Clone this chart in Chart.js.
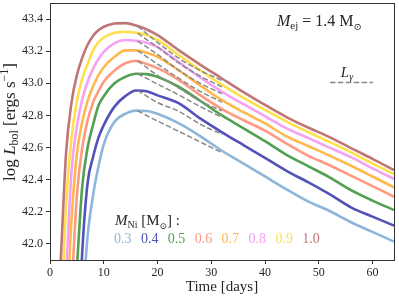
<!DOCTYPE html>
<html>
<head>
<meta charset="utf-8">
<script src="https://cdn.jsdelivr.net/npm/chart.js@4.4.1/dist/chart.umd.min.js"></script>
<style>
  html, body { margin: 0; padding: 0; background: #fff; }
  #wrap { width: 399px; height: 299px; position: relative; }
</style>
</head>
<body>
<div id="wrap"><canvas id="lbolChart"></canvas></div>
<script>
// --- Data (time in days, log L_bol) ---
const days = [2, 3, 4, 5, 6, 7, 8, 9, 10, 12, 14, 16, 18, 20, 24, 28, 32, 36, 40, 44, 48, 52, 56, 60, 64];

const lbol03 = [null, null, null, null, 41.6, 42.05, 42.3, 42.48, 42.62, 42.76, 42.81, 42.83, 42.828, 42.81, 42.75, 42.67, 42.58, 42.50, 42.42, 42.34, 42.265, 42.205, 42.135, 42.075, 42.014];
const lbol04 = [null, null, null, 41.2, 41.95, 42.38, 42.54, 42.66, 42.74, 42.855, 42.92, 42.955, 42.95, 42.925, 42.875, 42.78, 42.695, 42.615, 42.536, 42.455, 42.385, 42.31, 42.228, 42.17, 42.114];
const lbol05 = [null, null, null, 41.85, 42.36, 42.6, 42.74, 42.86, 42.92, 43.0, 43.04, 43.06, 43.057, 43.04, 42.977, 42.89, 42.80, 42.72, 42.64, 42.555, 42.485, 42.415, 42.335, 42.27, 42.211];
const lbol06 = [null, null, 41.7, 42.3, 42.6, 42.77, 42.88, 42.95, 43.01, 43.08, 43.125, 43.14, 43.12, 43.095, 43.02, 42.925, 42.84, 42.77, 42.705, 42.625, 42.55, 42.49, 42.425, 42.36, 42.294];
const lbol07 = [null, 41.5, 42.15, 42.56, 42.76, 42.89, 42.98, 43.05, 43.10, 43.165, 43.205, 43.205, 43.19, 43.165, 43.08, 42.985, 42.895, 42.82, 42.75, 42.67, 42.61, 42.55, 42.487, 42.42, 42.352];
const lbol08 = [null, 41.8, 42.45, 42.73, 42.90, 43.01, 43.09, 43.15, 43.195, 43.25, 43.27, 43.265, 43.253, 43.225, 43.13, 43.035, 42.947, 42.87, 42.795, 42.72, 42.66, 42.60, 42.54, 42.47, 42.404];
const lbol09 = [41.45, 42.25, 42.66, 42.89, 43.03, 43.12, 43.205, 43.255, 43.285, 43.315, 43.32, 43.315, 43.30, 43.27, 43.175, 43.08, 42.99, 42.91, 42.835, 42.762, 42.697, 42.635, 42.57, 42.50, 42.435];
const lbol10 = [41.90, 42.57, 42.88, 43.05, 43.16, 43.24, 43.295, 43.33, 43.352, 43.372, 43.375, 43.36, 43.335, 43.30, 43.205, 43.115, 43.03, 42.945, 42.865, 42.79, 42.725, 42.665, 42.597, 42.53, 42.46];

// gamma-ray deposition (dashed), same order
const gammaDays = [16.3, 20, 24, 28, 32];
const lgam03 = [42.828, 42.765, 42.70, 42.634, 42.568];
const lgam04 = [42.955, 42.88, 42.825, 42.744, 42.683];
const lgam05 = [43.06, 42.995, 42.927, 42.854, 42.788];
const lgam06 = [43.14, 43.05, 42.97, 42.889, 42.828];
const lgam07 = [43.204, 43.12, 43.03, 42.949, 42.883];
const lgam08 = [43.263, 43.18, 43.08, 42.999, 42.935];
const lgam09 = [43.312, 43.225, 43.125, 43.044, 42.978];
const lgam10 = [43.355, 43.255, 43.155, 43.079, 43.018];

const niMasses = ['0.3', '0.4', '0.5', '0.6', '0.7', '0.8', '0.9', '1.0'];
const niColors = ['#8cb6da', '#5252b8', '#52a052', '#ff9a80', '#ffb84e', '#f4a2f2', '#ffe04c', '#c07676'];

const xTicks = [0, 10, 20, 30, 40, 50, 60];
const yTicks = [42.0, 42.2, 42.4, 42.6, 42.8, 43.0, 43.2, 43.4];

const serif = '"Liberation Serif", "DejaVu Serif", serif';
const ink = '#262626';

// --- helpers ---
function toPoints(xs, ys) {
    return xs.map((x, i) => ({ x: x, y: ys[i] })).filter(p => p.y !== null);
}

// draw a run of text pieces (for sub/superscripts)
function drawPieces(ctx, pieces, x, y, align) {
    let total = 0;
    pieces.forEach(p => { ctx.font = p.font; total += ctx.measureText(p.t).width; });
    let cx = align === 'center' ? x - total / 2 : x;
    pieces.forEach(p => {
        ctx.font = p.font;
        ctx.fillStyle = p.color || ink;
        ctx.fillText(p.t, cx, y + (p.dy || 0));
        cx += ctx.measureText(p.t).width;
    });
}

const rm = s => `${s}px ${serif}`;
const it = s => `italic ${s}px ${serif}`;

const figureText = {
    id: 'figureText',
    afterDatasetsDraw(chart) {
        const ctx = chart.ctx;
        const a = chart.chartArea;
        ctx.save();

        // frame round the axes
        ctx.strokeStyle = '#333';
        ctx.lineWidth = 1;
        ctx.strokeRect(a.left + 0.5, a.top + 0.5, a.right - a.left, a.bottom - a.top);

        ctx.textBaseline = 'alphabetic';
        ctx.textAlign = 'left';

        // axis titles
        drawPieces(ctx, [{ t: 'Time [days]', font: rm(15) }], (a.left + a.right) / 2, 291, 'center');

        ctx.save();
        ctx.translate(15, 122);
        ctx.rotate(-Math.PI / 2);
        drawPieces(ctx, [
            { t: 'log ', font: rm(17) },
            { t: 'L', font: it(17) },
            { t: 'bol', font: rm(12), dy: 3 },
            { t: ' [ergs s', font: rm(17) },
            { t: '\u22121', font: rm(12), dy: -7 },
            { t: ']', font: rm(17) }
        ], 0, 0, 'center');
        ctx.restore();

        // ejecta mass note
        drawPieces(ctx, [
            { t: 'M', font: it(16) },
            { t: 'ej', font: rm(11), dy: 3 },
            { t: ' = 1.4 M', font: rm(16) },
            { t: '\u2299', font: rm(10), dy: 4 }
        ], 277, 26, 'left');

        // gamma legend entry
        drawPieces(ctx, [
            { t: 'L', font: it(15) },
            { t: '\u03b3', font: it(10), dy: 3 }
        ], 347, 77, 'center');
        ctx.strokeStyle = '#888';
        ctx.lineWidth = 1.5;
        ctx.setLineDash([5.5, 2.4]);
        ctx.beginPath();
        ctx.moveTo(330, 82.5);
        ctx.lineTo(373, 82.5);
        ctx.stroke();
        ctx.setLineDash([]);

        // nickel mass key
        drawPieces(ctx, [
            { t: 'M', font: it(15) },
            { t: 'Ni', font: rm(10), dy: 3 },
            { t: ' [M', font: rm(15) },
            { t: '\u2299', font: rm(9), dy: 4 },
            { t: '] :', font: rm(15) }
        ], 115, 225, 'left');
        niMasses.forEach((m, i) => {
            drawPieces(ctx, [{ t: m, font: rm(14), color: niColors[i] }], 114 + i * 26.9, 242.5, 'left');
        });

        ctx.restore();
    }
};

const solidSeries = [lbol03, lbol04, lbol05, lbol06, lbol07, lbol08, lbol09, lbol10];
const gammaSeries = [lgam03, lgam04, lgam05, lgam06, lgam07, lgam08, lgam09, lgam10];

const datasets = [];
gammaSeries.forEach((g, i) => {
    datasets.push({
        label: 'L_gamma ' + niMasses[i],
        data: toPoints(gammaDays, g),
        borderColor: '#8a8a8a',
        borderWidth: 1.5,
        borderDash: [5.5, 2.4],
        cubicInterpolationMode: 'monotone',
        order: 0
    });
});
solidSeries.forEach((s, i) => {
    datasets.push({
        label: 'M_Ni = ' + niMasses[i],
        data: toPoints(days, s),
        borderColor: niColors[i],
        borderWidth: 2.6,
        cubicInterpolationMode: 'monotone',
        order: 10 - i
    });
});

const ctx = document.getElementById('lbolChart').getContext('2d');
new Chart(ctx, {
    type: 'line',
    data: { datasets: datasets },
    options: {
        responsive: true,
        maintainAspectRatio: false,
        animation: false,
        layout: { padding: { top: 3, right: 5, left: 0, bottom: 0 } },
        elements: { point: { radius: 0 }, line: { borderCapStyle: 'butt' } },
        plugins: {
            legend: { display: false },
            tooltip: { enabled: false }
        },
        scales: {
            x: {
                type: 'linear',
                min: 0,
                max: 64,
                afterBuildTicks: axis => { axis.ticks = xTicks.map(v => ({ value: v })); },
                afterFit: axis => { axis.height = 39; axis.paddingLeft = 0; axis.paddingRight = 0; },
                border: { display: false },
                grid: { drawOnChartArea: false, color: '#333', tickLength: 4 },
                ticks: {
                    autoSkip: false,
                    maxRotation: 0,
                    padding: 2,
                    color: ink,
                    font: { family: serif, size: 12 },
                    callback: v => String(v)
                }
            },
            y: {
                type: 'linear',
                min: 41.9,
                max: 43.5,
                afterBuildTicks: axis => { axis.ticks = yTicks.map(v => ({ value: v })); },
                afterFit: axis => { axis.width = 50; axis.paddingTop = 0; axis.paddingBottom = 0; },
                border: { display: false },
                grid: { drawOnChartArea: false, color: '#333', tickLength: 4 },
                ticks: {
                    autoSkip: false,
                    padding: 3,
                    color: ink,
                    font: { family: serif, size: 12 },
                    callback: v => v.toFixed(1)
                }
            }
        }
    },
    plugins: [figureText]
});
</script>
</body>
</html>
